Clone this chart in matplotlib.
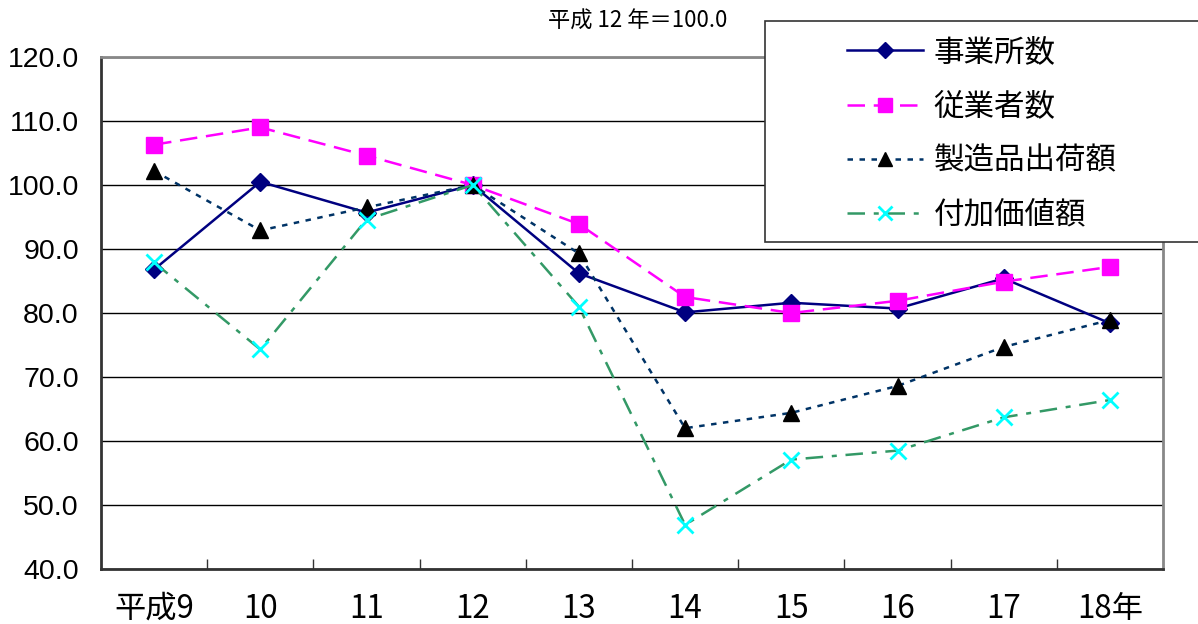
import matplotlib
matplotlib.use("Agg")
import matplotlib.pyplot as plt
from matplotlib.patches import Rectangle

plt.rcParams['font.family'] = ['Liberation Sans', 'Noto Sans CJK JP', 'DejaVu Sans']

# data (平成12年 = 100.0)
years = ['平成9', '10', '11', '12', '13', '14', '15', '16', '17', '18年']
jigyosho = [86.8, 100.5, 95.7, 100.0, 86.2, 80.1, 81.6, 80.7, 85.4, 78.4]
jugyosha = [106.3, 109.0, 104.6, 100.0, 93.9, 82.5, 80.0, 81.9, 84.9, 87.2]
seizohin = [102.2, 92.9, 96.5, 100.0, 89.3, 62.0, 64.4, 68.6, 74.7, 78.9]
fukakachi = [87.9, 74.3, 94.6, 100.0, 81.0, 46.9, 57.1, 58.5, 63.7, 66.4]
series_names = ['事業所数', '従業者数', '製造品出荷額', '付加価値額']
yticks = [40, 50, 60, 70, 80, 90, 100, 110, 120]

cjk = ['Noto Sans CJK JP', 'DejaVu Sans']

fig = plt.figure(figsize=(11.98, 6.24), dpi=100)
ax = fig.add_axes([101/1198, 1 - 569/624, (1163 - 101)/1198, (569 - 57)/624])

x = list(range(len(years)))

ax.plot(x, jigyosho, color='#000080', lw=1.8, ls='-',
        marker='D', ms=9, mfc='#000080', mec='#000080', label=series_names[0], zorder=3)
ax.plot(x, jugyosha, color='#FF00FF', lw=1.8, ls=(0, (7, 3.5)),
        marker='s', ms=11, mfc='#FF00FF', mec='#FF00FF', label=series_names[1], zorder=3)
ax.plot(x, seizohin, color='#003366', lw=1.8, ls=(0, (2.2, 2.6)),
        marker='^', ms=11, mfc='black', mec='black', label=series_names[2], zorder=3)
ax.plot(x, fukakachi, color='#339966', lw=1.8, ls=(0, (7, 3.5, 2, 3.5)),
        marker='x', ms=11, mew=2, mec='#00FFFF', label=series_names[3], zorder=3)

ax.set_xlim(-0.5, len(years) - 0.5)
ax.set_ylim(40, 120)
ax.set_yticks(yticks)
ax.set_yticklabels([f'{v:.1f}' for v in yticks], fontsize=20.5, family=['Liberation Sans'])
ax.tick_params(axis='y', length=0, pad=16)

ax.set_xticks(x)
ax.set_xticklabels(years, fontsize=22.5, family=cjk)
ax.set_xticks([i + 0.5 for i in range(len(years) - 1)], minor=True)
ax.tick_params(axis='x', which='major', length=0, pad=17)
ax.tick_params(axis='x', which='minor', direction='in', length=7, width=1, color='#333333')

ax.grid(axis='y', color='black', lw=1.0)
ax.set_axisbelow(True)

for side in ['left', 'bottom']:
    ax.spines[side].set_color('#333333')
    ax.spines[side].set_linewidth(2)
for side in ['top', 'right']:
    ax.spines[side].set_color('#888888')
    ax.spines[side].set_linewidth(2)

fig.text(548/1198, 1 - 21/624, '平成 12 年＝100.0', fontsize=16, family=cjk,
         ha='left', va='center')

# legend box (runs off the right edge, as in the original)
fig.patches.append(Rectangle((765/1198, 1 - 242/624), 500/1198, 221/624,
                             transform=fig.transFigure, facecolor='white',
                             edgecolor='#333333', lw=1.2, zorder=5))
leg = fig.legend(loc='upper left', bbox_to_anchor=(847/1198, 1 - 37/624),
                 frameon=False, prop={'family': cjk, 'size': 22},
                 handlelength=2.5, handletextpad=0.33, labelspacing=0.76,
                 markerscale=0.9, borderpad=0, borderaxespad=0)
leg.set_zorder(6)

fig.savefig('out.png', dpi=100)
